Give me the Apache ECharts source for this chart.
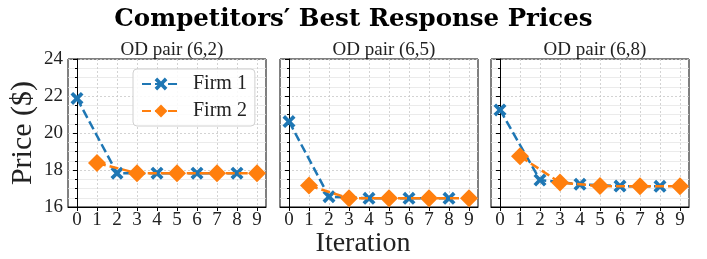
<!DOCTYPE html>
<html>
<head>
<meta charset="utf-8">
<script src="https://cdn.jsdelivr.net/npm/echarts@6/dist/echarts.min.js"></script>
<style>
  html, body { margin: 0; padding: 0; background: #fff; }
  #chart { width: 707px; height: 259px; }
</style>
</head>
<body>
<div id="chart"></div>
<script>
// iterations and prices
const firm1Iter = [0, 2, 4, 6, 8];
const firm2Iter = [1, 3, 5, 7, 9];
const xTicks = [0, 1, 2, 3, 4, 5, 6, 7, 8, 9];
const pairNames = ["OD pair (6,2)", "OD pair (6,5)", "OD pair (6,8)"];
const firm1Prices = [
  [21.87, 17.83, 17.83, 17.83, 17.83],
  [20.62, 16.56, 16.47, 16.47, 16.47],
  [21.25, 17.46, 17.23, 17.13, 17.12]
];
const firm2Prices = [
  [18.38, 17.83, 17.83, 17.83, 17.83],
  [17.16, 16.47, 16.47, 16.47, 16.47],
  [18.74, 17.32, 17.13, 17.12, 17.12]
];

const FONT = "Liberation Serif";
const BLUE = "#1f77b4";
const ORANGE = "#ff7f0e";
const xMarker = "path://M2,0 L5,3 L8,0 L10,2 L7,5 L10,8 L8,10 L5,7 L2,10 L0,8 L3,5 L0,2 Z";

const lefts = [68, 280, 491];
const grids = [], xAxes = [], yAxes = [], titles = [], series = [];

titles.push({
  text: "Competitors\u2032 Best Response Prices",
  left: "center", top: 2,
  textStyle: { fontFamily: "DejaVu Serif", fontWeight: "bold", fontSize: 24.5, color: "#000" }
});
titles.push({
  text: "Iteration", left: 358, top: 225, textAlign: "center",
  textStyle: { fontFamily: FONT, fontWeight: "normal", fontSize: 28, color: "#222" }
});

pairNames.forEach((name, i) => {
  grids.push({
    left: lefts[i], top: 59, width: 198, height: 148,
    show: true, borderColor: "#000", borderWidth: 1, backgroundColor: "transparent"
  });
  titles.push({
    text: name, left: lefts[i] + 99, top: 36, textAlign: "center",
    textStyle: { fontFamily: FONT, fontWeight: "normal", fontSize: 19, color: "#222" }
  });
  xAxes.push({
    type: "value", gridIndex: i, min: -0.45, max: 9.45,
    axisLine: { show: true, lineStyle: { color: "#000", width: 1 } },
    axisTick: { show: true, length: 4, customValues: xTicks, lineStyle: { color: "#000" } },
    axisLabel: { customValues: xTicks, fontFamily: FONT, fontSize: 19, color: "#222", margin: 4 },
    splitLine: { show: true, lineStyle: { color: "#c8c8c8", type: [2, 2], width: 0.8 } }
  });
  yAxes.push({
    type: "value", gridIndex: i, min: 16, max: 24, interval: 2,
    axisLine: { show: true, lineStyle: { color: "#000", width: 1 } },
    axisTick: { show: true, length: 4, lineStyle: { color: "#000" } },
    minorTick: { show: true, splitNumber: 4, length: 2, lineStyle: { color: "#000" } },
    axisLabel: { show: i === 0, fontFamily: FONT, fontSize: 19, color: "#222", margin: 5 },
    splitLine: { show: true, lineStyle: { color: "#c8c8c8", type: [2, 2], width: 0.8 } },
    minorSplitLine: { show: true, lineStyle: { color: "#e6e6e6", width: 0.8 } },
    name: i === 0 ? "Price ($)" : "",
    nameLocation: "middle", nameGap: 30, nameRotate: 90,
    nameTextStyle: { fontFamily: FONT, fontSize: 30, color: "#222" }
  });
  series.push({
    name: "Firm 1", type: "line", xAxisIndex: i, yAxisIndex: i,
    data: firm1Iter.map((x, k) => [x, firm1Prices[i][k]]),
    symbol: xMarker, symbolSize: 13, showAllSymbol: true,
    itemStyle: { color: BLUE },
    lineStyle: { color: BLUE, width: 2.5, type: [9, 4] },
    z: 3
  });
  series.push({
    name: "Firm 2", type: "line", xAxisIndex: i, yAxisIndex: i,
    data: firm2Iter.map((x, k) => [x, firm2Prices[i][k]]),
    symbol: "diamond", symbolSize: [18, 18], showAllSymbol: true,
    itemStyle: { color: ORANGE },
    lineStyle: { color: ORANGE, width: 2.5, type: [9, 4] },
    z: 4
  });
});

const chart = echarts.init(document.getElementById("chart"), null, { renderer: "canvas" });
chart.setOption({
  animation: false,
  backgroundColor: "#fff",
  title: titles,
  grid: grids,
  xAxis: xAxes,
  yAxis: yAxes,
  legend: {
    data: ["Firm 1", "Firm 2"],
    orient: "vertical", left: 133, top: 69,
    padding: [5, 8, 5, 8], itemGap: 7, itemWidth: 38, itemHeight: 16,
    backgroundColor: "rgba(255,255,255,0.85)", borderColor: "#d0d0d0", borderWidth: 1, borderRadius: 4,
    textStyle: { fontFamily: FONT, fontSize: 20, color: "#222", padding: [0, 0, 0, 8] }
  },
  series: series
});
</script>
</body>
</html>
